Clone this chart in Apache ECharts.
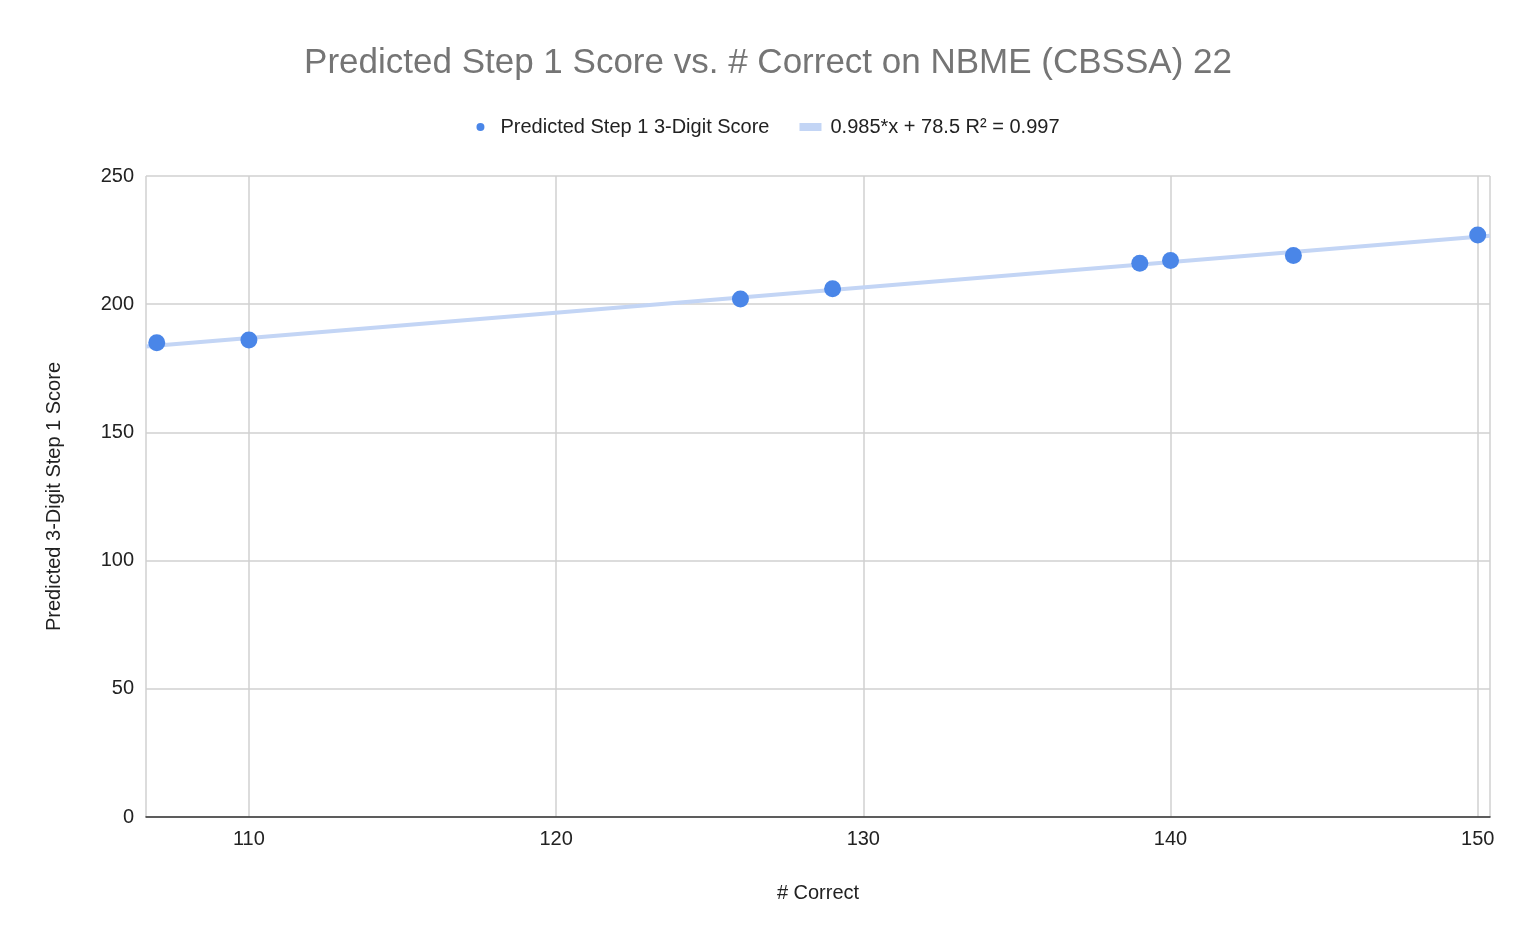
<!DOCTYPE html>
<html><head><meta charset="utf-8">
<script src="https://cdn.jsdelivr.net/npm/echarts@6/dist/echarts.min.js"></script>
<style>html,body{margin:0;background:#fff}#c{width:1536px;height:950px}</style>
</head><body><div id="c"></div>
<script>
const correct = [107, 110, 126, 129, 139, 140, 144, 150];
const scores = [185, 186, 202, 206, 216, 217, 219, 227];
const trendX = [106.65, 150.4];
const trendY = [183.5, 226.7];
const yTicks = [0, 50, 100, 150, 200, 250];

const chart = echarts.init(document.getElementById('c'));
chart.setOption({
  animation: false,
  textStyle: { fontFamily: 'Arial, "Liberation Sans", sans-serif' },
  title: { text: 'Predicted Step 1 Score vs. # Correct on NBME (CBSSA) 22', left: 'center', top: 41,
    textStyle: { fontSize: 35, fontWeight: 'normal', color: '#757575', fontFamily: 'Arial, "Liberation Sans", sans-serif' } },
  legend: { top: 112, left: 'center', itemGap: 30, textStyle: { fontSize: 20, color: '#222', padding: [0,0,0,4] },
    data: [ { name: 'Predicted Step 1 3-Digit Score', icon: 'circle', itemStyle: { color: '#4a86e8' }, itemWidth: 22, itemHeight: 22 },
            { name: '0.985*x + 78.5 R² = 0.997', icon: 'rect', itemStyle: { color: '#c3d5f5' } } ],
    itemWidth: 22, itemHeight: 8 },
  grid: { left: 146, right: 46, top: 176, bottom: 133 },
  xAxis: { type: 'value', min: 106.65, max: 150.4, splitNumber: 4,
    name: '# Correct', nameLocation: 'middle', nameGap: 66, nameTextStyle: { fontSize: 20, color: '#222' },
    axisLabel: { fontSize: 20, color: '#222', margin: 12, showMinLabel: false, showMaxLabel: false },
    axisLine: { lineStyle: { color: '#333', width: 1.5 } }, axisTick: { show: false },
    splitLine: { lineStyle: { color: '#d0d0d0', width: 1.5 } } },
  yAxis: { type: 'value', min: yTicks[0], max: yTicks[yTicks.length-1], interval: 50,
    name: 'Predicted 3-Digit Step 1 Score', nameLocation: 'middle', nameGap: 82,
    nameTextStyle: { fontSize: 20, color: '#222' },
    axisLabel: { fontSize: 20, color: '#222', margin: 12 },
    axisLine: { show: false }, axisTick: { show: false },
    splitLine: { lineStyle: { color: '#d0d0d0', width: 1.5 } } },
  series: [
    { name: '0.985*x + 78.5 R² = 0.997', type: 'line', symbol: 'none', z: 1,
      data: trendX.map((x, i) => [x, trendY[i]]), lineStyle: { color: '#c3d5f5', width: 4 }, itemStyle: { color: '#c3d5f5' } },
    { name: 'Predicted Step 1 3-Digit Score', type: 'scatter', symbolSize: 17, z: 3,
      data: correct.map((x, i) => [x, scores[i]]), itemStyle: { color: '#4a86e8', opacity: 1 } }
  ]
});
</script></body></html>
